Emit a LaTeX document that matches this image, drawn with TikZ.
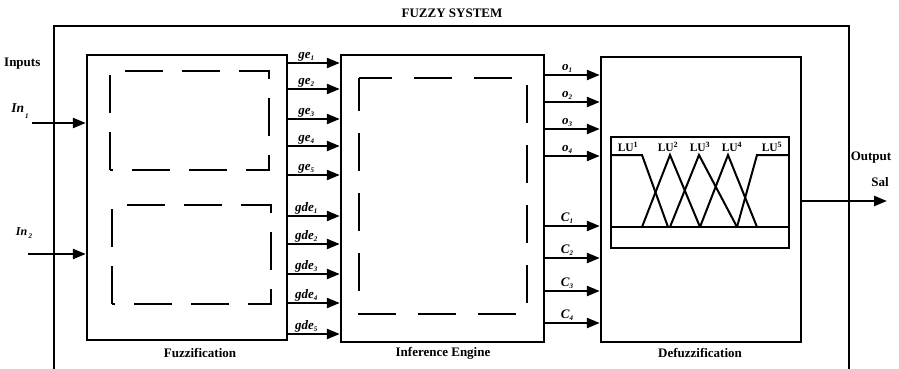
\documentclass[tikz,border=0pt]{standalone}
\usepackage{fontspec}
\setmainfont{Liberation Serif}
\usetikzlibrary{arrows.meta}
\newcommand\sublab[2]{\bfseries\itshape #1\raisebox{-0.35ex}{\scriptsize #2}}
\begin{document}
\begin{tikzpicture}[x=1pt,y=-1pt,
  blk/.style={draw,line width=2.4pt,rectangle,inner sep=0pt},
  arr/.style={line width=2.4pt,-{Triangle[length=13pt,width=10pt]}},
  dsh/.style={line width=2.6pt,dash pattern=on 38pt off 19pt},
  dshb/.style={line width=2.6pt,dash pattern=on 38pt off 22pt,dash phase=5pt},
  txt/.style={font=\fontsize{13}{15}\selectfont\bfseries,inner sep=0pt},
  lab/.style={font=\fontsize{13}{15}\selectfont,inner sep=1pt,above}]
\useasboundingbox (0,0) rectangle (899,369);
% outer system frame
\draw[line width=2.4pt] (54,369) -- (54,26) -- (849,26) -- (849,369);
\node[txt] (title) at (452,13) {FUZZY SYSTEM};
% blocks
\node[blk,minimum width=200pt,minimum height=285pt] (fuzz) at (187,197.5) {};
\node[blk,minimum width=203pt,minimum height=287pt] (inf) at (442.5,198.5) {};
\node[blk,minimum width=200pt,minimum height=285pt] (defuzz) at (701,199.5) {};
\node[txt] (lfuzz) at (200,353) {Fuzzification};
\node[txt] (linf) at (443,353) {Inference Engine};
\node[txt] (ldef) at (700,353) {Defuzzification};
% dashed inner boxes
\draw[dsh] (110,170) -- (110,71) -- (269,71) -- (269,170) -- cycle;
\draw[dsh] (112,304) -- (112,205) -- (271,205) -- (271,304) -- cycle;
\draw[dshb] (359,78) -- (527,78) -- (527,314) -- (359,314) -- cycle;
% inputs
\node[txt,anchor=west] (inputs) at (4,64) {Inputs};
\coordinate (in1) at (32,123);
\coordinate (in2) at (28,254);
\draw[arr] (in1) -- (fuzz.west |- in1);
\draw[arr] (in2) -- (fuzz.west |- in2);
\node[inner sep=0pt,font=\fontsize{13.5}{15}\selectfont] (lin1) at (20,111) {\sublab{In}{\raisebox{-1ex}{\,1}}};
\node[inner sep=0pt,font=\fontsize{12}{14}\selectfont] (lin2) at (24,233) {\sublab{In}{\raisebox{-0.2ex}{\,2}}};
% ge / gde arrows
\foreach \y/\s/\t [count=\i] in {63/ge/1,89/ge/2,119/ge/3,146/ge/4,175/ge/5,216/gde/1,244/gde/2,274/gde/3,303/gde/4,334/gde/5}{
  \coordinate (g\i) at (0,\y);
  \draw[arr] (fuzz.east |- g\i) -- (inf.west |- g\i) node[lab,pos=0.35] {\sublab{\s}{\t}};
}
% o / C arrows
\foreach \y/\s/\t [count=\i] in {75/o/1,102/o/2,129/o/3,156/o/4,226/C/1,258/C/2,291/C/3,323/C/4}{
  \coordinate (h\i) at (0,\y);
  \draw[arr] (inf.east |- h\i) -- (defuzz.west |- h\i) node[lab,pos=0.4] {\sublab{\s}{\t}};
}
% membership function box
\node[blk,line width=2pt,minimum width=178pt,minimum height=111pt] (mf) at (700,192.5) {};
\draw[line width=2pt] (mf.west |- 0,227) -- (mf.east |- 0,227);
\begin{scope}[line width=2pt,line join=miter]
\draw (611,155) -- (642,155) -- (668,227);
\draw (642,227) -- (670,155) -- (700,227);
\draw (670,227) -- (699,155) -- (737,227);
\draw (700,227) -- (728,155) -- (757,227);
\draw (737,227) -- (757,155) -- (789,155);
\end{scope}
\foreach \x/\n in {628/1,668/2,700/3,732/4,772/5}{
  \node[inner sep=0pt,font=\fontsize{11.5}{13}\selectfont\bfseries] (lu\n) at (\x,147) {LU\textsuperscript{\n}};
}
% output
\coordinate (outend) at (887,201);
\draw[arr] (defuzz.east |- outend) -- (outend);
\node[txt] (lout) at (871,158) {Output};
\node[txt] (lsal) at (880,182) {Sal};
\end{tikzpicture}
\end{document}
